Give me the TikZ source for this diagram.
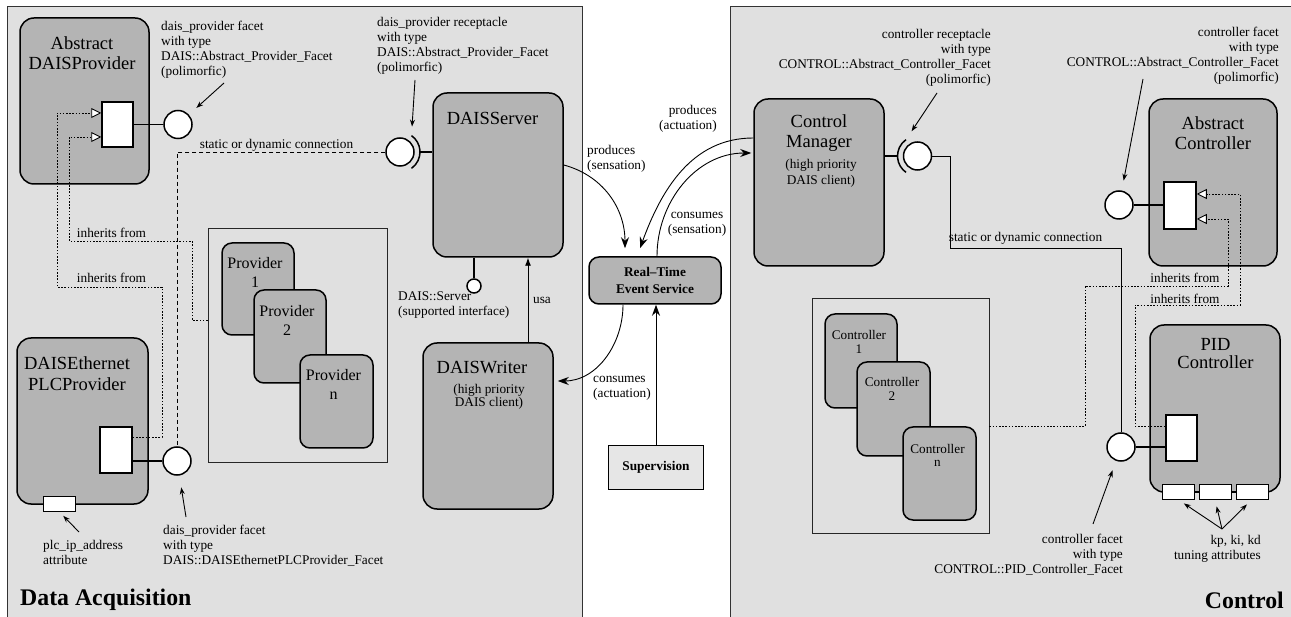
\documentclass[tikz,border=0pt]{standalone}
\usepackage{fontspec}
\setmainfont{Liberation Serif}
\usetikzlibrary{calc,positioning,arrows.meta}
\definecolor{areagray}{RGB}{224,224,224}
\definecolor{compgray}{RGB}{180,180,180}
\definecolor{supgray}{RGB}{230,230,230}

\begin{document}
\begin{tikzpicture}[x=1pt, y=-1pt,
  area/.style = {draw=black!80, line width=0.9pt, fill=areagray},
  comp/.style = {draw, line width=1.5pt, fill=compgray, rounded corners=14pt, inner sep=0pt},
  subcomp/.style = {comp, rounded corners=10pt},
  group/.style = {draw=black!85, line width=0.9pt, inner sep=0pt},
  port/.style = {draw, line width=1.5pt, fill=white, inner sep=0pt},
  attr/.style = {draw, line width=1pt, fill=white, inner sep=0pt, minimum width=32pt, minimum height=15pt},
  facet/.style = {circle, draw, line width=1.5pt, fill=white, inner sep=0pt, minimum size=28pt},
  recep/.style = {line width=1.5pt},
  link/.style = {line width=1.8pt},
  conn/.style = {line width=0.9pt},
  inherit/.style = {line width=0.9pt, dash pattern=on 1.6pt off 1.6pt,
    -{Triangle[fill=white, length=10pt, width=10pt, line width=0.9pt]}},
  pointer/.style = {line width=0.9pt, -{Stealth[length=7pt, width=5pt]}},
  flow/.style = {line width=0.9pt, -{Stealth[length=11pt, width=8pt]}},
  note/.style = {inner sep=0pt, font=\fontsize{13.3}{15}\selectfont},
  comptitle/.style = {inner sep=0pt, align=center, font=\fontsize{18.5}{20}\selectfont},
  provtitle/.style = {inner sep=0pt, align=center, font=\fontsize{16}{19}\selectfont},
  ctrltitle/.style = {inner sep=0pt, align=center, font=\fontsize{13.2}{14}\selectfont},
  service/.style = {inner sep=0pt, align=center, font=\bfseries\fontsize{13.3}{17}\selectfont},
  areatitle/.style = {inner sep=0pt, font=\bfseries\fontsize{23.8}{28}\selectfont}
]
\useasboundingbox (0,0) rectangle (1291,617);

% areas
\draw[area] (7,6) rectangle (582,640);
\draw[area] (730,6) rectangle (1310,640);
\node[areatitle, anchor=west] (datitle) at (20,600) {Data Acquisition};
\node[areatitle, anchor=east] (ctitle) at (1284,600) {Control};

% data acquisition side
\node[comp, minimum width=129pt, minimum height=166pt] (adp) at (84.5,101) {};
\node[comptitle] (adptitle) at (82,53) {Abstract\\DAISProvider};
\node[port, minimum width=31pt, minimum height=45pt] (adpport) at (117.5,124.5) {};
\node[facet] (adpfacet) at (178,124.5) {};

\node[comp, minimum width=131pt, minimum height=166pt] (dep) at (82.5,421) {};
\node[comptitle, font=\fontsize{18.5}{21}\selectfont] (deptitle) at (77,373.5) {DAISEthernet\\PLCProvider};
\node[port, minimum width=32pt, minimum height=46pt] (depport) at (116,450) {};
\node[facet] (depfacet) at (177,461) {};
\node[attr] (depattr) at (59,503.5) {};

\node[group, minimum width=179pt, minimum height=234pt] (provgrp) at (297.5,345) {};
\node[subcomp, minimum width=72pt, minimum height=92pt] (prov1) at (258,289) {};
\node[provtitle] (prov1title) at (255,272.5) {Provider\\1};
\node[subcomp, minimum width=72pt, minimum height=93pt] (prov2) at (290,336.5) {};
\node[provtitle] (prov2title) at (287,320) {Provider\\2};
\node[subcomp, minimum width=73pt, minimum height=93pt] (provn) at (336.5,401.5) {};
\node[provtitle] (provntitle) at (333.5,384) {Provider\\n};

\node[comp, minimum width=130pt, minimum height=164pt] (srv) at (498,175) {};
\node[comptitle] (srvtitle) at (492.5,118) {DAISServer};
\node[facet] (srvrec) at (400,152) {};
\node[facet, minimum size=14pt] (srviface) at (474,286) {};

\node[comp, minimum width=130pt, minimum height=166pt] (wri) at (488,426) {};
\node[comptitle] (writitle) at (482,368) {DAISWriter};
\node[note, align=center, font=\fontsize{13.3}{13}\selectfont] (wriclient) at (489,396.5) {(high priority\\DAIS client)};

% middle
\node[comp, service, rounded corners=10pt, minimum width=132pt, minimum height=47pt] (rtes) at (655,280.5) {Real--Time\\Event Service};
\node[service, draw, fill=supgray, line width=0.9pt, minimum width=95pt, minimum height=44pt] (sup) at (656,467) {Supervision};

% control side
\node[comp, minimum width=130pt, minimum height=167pt] (cm) at (819,182.5) {};
\node[comptitle] (cmtitle) at (819,133) {Control\\Manager};
\node[note, align=center, font=\fontsize{13.3}{16}\selectfont] (cmclient) at (821,173) {(high priority\\DAIS client)};
\node[facet] (cmrec) at (917.5,156) {};

\node[comp, minimum width=128pt, minimum height=167pt] (ac) at (1213,182.5) {};
\node[comptitle] (actitle) at (1213,133) {Abstract\\Controller};
\node[port, minimum width=32pt, minimum height=47pt] (acport) at (1180,205.5) {};
\node[facet] (acfacet) at (1119,205) {};

\node[group, minimum width=177pt, minimum height=235pt] (ctrlgrp) at (900.5,415.5) {};
\node[subcomp, minimum width=72pt, minimum height=94pt] (ctrl1) at (861,361) {};
\node[ctrltitle] (ctrl1title) at (859,342) {Controller\\1};
\node[subcomp, minimum width=73pt, minimum height=94pt] (ctrl2) at (893.5,409) {};
\node[ctrltitle] (ctrl2title) at (892,389) {Controller\\2};
\node[subcomp, minimum width=73pt, minimum height=93pt] (ctrln) at (939.5,473.5) {};
\node[ctrltitle] (ctrlntitle) at (937.5,455) {Controller\\[-1pt]n};

\node[comp, minimum width=130pt, minimum height=167pt] (pid) at (1215,408.5) {};
\node[comptitle, font=\fontsize{18.5}{18}\selectfont] (pidtitle) at (1215.5,354) {PID\\Controller};
\node[port, minimum width=31pt, minimum height=46pt] (pidport) at (1181.5,438) {};
\node[facet] (pidfacet) at (1121,447) {};
\foreach \i/\x in {1/1178, 2/1215, 3/1252}
  \node[attr] (pidattr\i) at (\x,491.5) {};

% ports, facets and receptacles
\draw[link] (adpport) -- (adpfacet);
\draw[link] (depfacet -| depport.east) -- (depfacet);
\draw[recep] ($(srvrec)+(-55:20pt)$) arc (-55:55:20pt);
\draw[link] ($(srvrec)+(20,0)$) -- (srvrec -| srv.west);
\draw[link] (srviface.north |- srv.south) -- (srviface.north);
\draw[recep] ($(cmrec)+(125:20pt)$) arc (125:235:20pt);
\draw[link] (cmrec -| cm.east) -- ($(cmrec)+(-20,0)$);
\draw[link] (acfacet) -- (acfacet -| acport.west);
\draw[link] (pidfacet) -- (pidfacet -| pidport.west);
\draw[conn] (pidattr1) -- (pidattr2) -- (pidattr3);

% connections
\draw[conn, dash pattern=on 4pt off 3pt] (srvrec.west) -- (srvrec.west -| depfacet.north) -- (depfacet.north);
\node[note] (dalink) at (276.5,145) {static or dynamic connection};
\draw[conn] (cmrec.east) -- ++(18,0) -- ++(0,92) -| (pidfacet.north);
\node[note] (clink) at (1025.5,238) {static or dynamic connection};

% inheritance
\draw[inherit] ($(depport.east)+(0,-13)$) -- (162,437) -- (162,287) -- (57,287) -- (57,113) -- ($(adpport.west)+(0,-11.5)$);
\draw[inherit] ($(provgrp.west)+(0,-25)$) -- (192,320) -- (192,241) -- (69,241) -- (69,137) -- ($(adpport.west)+(0,12.5)$);
\node[note] (inh1) at (111.5,233) {inherits from};
\node[note] (inh2) at (111.5,278) {inherits from};
\draw[inherit] ($(pidport.west)+(0,-12)$) -- (1135,426) -- (1135,305) -- (1240,305) -- (1240,194) -- ($(acport.east)+(0,-11.5)$);
\draw[inherit] ($(ctrlgrp.east)+(0,10.5)$) -- (1085,426) -- (1085,286) -- (1228,286) -- (1228,219) -- ($(acport.east)+(0,13.5)$);
\node[note] (inh3) at (1185,278) {inherits from};
\node[note] (inh4) at (1185,299) {inherits from};

% events
\draw[flow] ($(srv.east)+(0,-10)$) to[out=-15, in=90] ($(rtes.north)+(-30,-8)$);
\draw[flow] ($(cm.west)+(0,-44.5)$) to[out=180, in=70] ($(rtes.north)+(-15,-8)$);
\draw[flow] ($(rtes.north)+(2,0)$) to[out=90, in=180] ($(cm.west)+(-2,-29.5)$);
\draw[flow] ($(rtes.south)+(-32,0)$) to[out=-90, in=0] ($(wri.east)+(4,-45)$);
\draw[flow] (sup.north) -- (sup.north |- rtes.south);
\draw[line width=0.9pt, -{Latex[length=8pt, width=6pt]}] ($(wri.north)+(40,0)$) -- ($(srv.south)+(30,0)$);
\node[note, anchor=west, align=left] (sens) at (587,158.5) {produces\\(sensation)};
\node[note, anchor=east, align=right] (act) at (717,118.5) {produces\\(actuation)};
\node[note, align=center] (csens) at (697,224) {consumes\\(sensation)};
\node[note, anchor=west, align=left] (cact) at (593,388) {consumes\\(actuation)};
\node[note] (usa) at (542,300) {usa};

% notes
\node[note, anchor=west, align=left] (adpnote) at (161,49.5) {dais\_provider facet\\with type\\DAIS::Abstract\_Provider\_Facet\\(polimorfic)};
\node[note, anchor=west, align=left] (srvnote) at (377,46) {dais\_provider receptacle\\with type\\DAIS::Abstract\_Provider\_Facet\\(polimorfic)};
\node[note, anchor=west, align=left] (ifacenote) at (398,305.5) {DAIS::Server\\(supported interface)};
\node[note, anchor=west, align=left] (depnote) at (163,545.5) {dais\_provider facet\\with type\\DAIS::DAISEthernetPLCProvider\_Facet};
\node[note, anchor=west, align=left] (plcnote) at (43,552.5) {plc\_ip\_address\\attribute};
\node[note, anchor=east, align=right] (cmnote) at (991,57.5) {controller receptacle\\with type\\CONTROL::Abstract\_Controller\_Facet\\(polimorfic)};
\node[note, anchor=east, align=right] (acnote) at (1279,56) {controller facet\\with type\\CONTROL::Abstract\_Controller\_Facet\\(polimorfic)};
\node[note, anchor=east, align=right] (pidnote) at (1123,555) {controller facet\\with type\\CONTROL::PID\_Controller\_Facet};
\node[note, anchor=east, align=right] (kpnote) at (1261,549) {kp, ki, kd\\tuning attributes};

% pointers
\coordinate (adpptr) at (224,83);
\coordinate (srvptr) at (415,80);
\coordinate (srvarc) at ($(srvrec)+(55:20pt)$);
\coordinate (depptr) at (186,517);
\coordinate (plcptr) at (79,532);
\coordinate (cmptr) at (937,93);
\coordinate (cmarc) at ($(cmrec)+(125:20pt)$);
\coordinate (acptr) at (1143,79);
\coordinate (pidptr) at (1093,524);
\coordinate (kpptr) at (1222,529);
\draw[pointer, shorten >=10pt] (adpptr) -- (adpfacet);
\draw[pointer, shorten >=9pt] (srvptr) -- (srvarc);
\draw[pointer, shorten >=12pt] (depptr) -- (depfacet);
\draw[pointer, shorten >=6pt] (plcptr) -- (depattr.south);
\draw[pointer, shorten >=10pt] (cmptr) -- (cmarc);
\draw[pointer, shorten >=10pt] (acptr) -- (acfacet);
\draw[pointer, shorten >=10pt] (pidptr) -- (pidfacet);
\foreach \i in {1,2,3}
  \draw[pointer, shorten >=7pt] (kpptr) -- (pidattr\i.south);
\end{tikzpicture}
\end{document}
